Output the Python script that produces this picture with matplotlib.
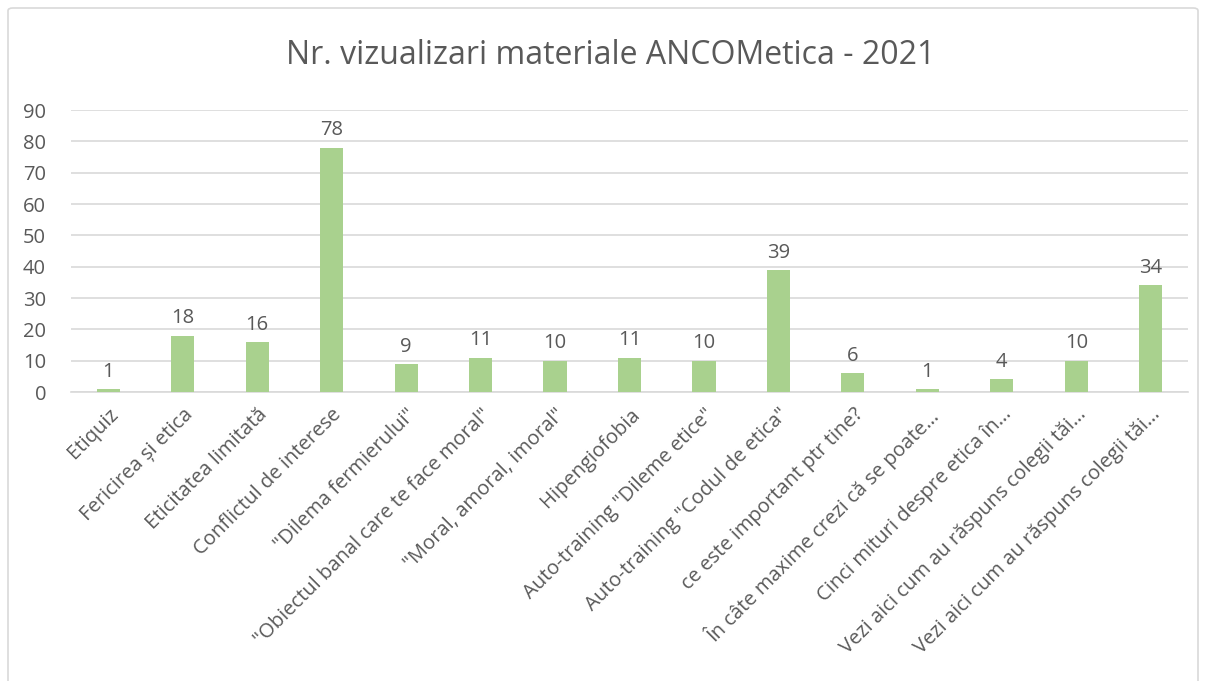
import matplotlib
matplotlib.use("Agg")
import matplotlib.pyplot as plt
from matplotlib.patches import FancyBboxPatch

categories = [
    "Etiquiz",
    "Fericirea și etica",
    "Eticitatea limitată",
    "Conflictul de interese",
    "\"Dilema fermierului\"",
    "\"Obiectul banal care te face moral\"",
    "\"Moral, amoral, imoral\"",
    "Hipengiofobia",
    "Auto-training \"Dileme etice\"",
    "Auto-training \"Codul de etica\"",
    "ce este important ptr tine?",
    "În câte maxime crezi că se poate…",
    "Cinci mituri despre etica în…",
    "Vezi aici cum au răspuns colegii tăi…",
    "Vezi aici cum au răspuns colegii tăi…",
]
values = [1, 18, 16, 78, 9, 11, 10, 11, 10, 39, 6, 1, 4, 10, 34]
title = "Nr. vizualizari materiale ANCOMetica - 2021"
yticks = list(range(0, 100, 10))

plt.rcParams['font.family'] = ['Open Sans', 'DejaVu Sans']
text_color = "#595959"
grid_color = "#D9D9D9"
bar_color = "#A9D18E"

fig = plt.figure(figsize=(12.06, 6.81), dpi=100)
ax = fig.add_axes([71/1206, 1-392/681, (1188-71)/1206, (392-110)/681])

x = list(range(len(categories)))
ax.bar(x, values, width=0.31, color=bar_color, zorder=3)
for xi, v in zip(x, values):
    ax.text(xi, v + 2.3, str(v), ha="center", va="bottom", fontsize=14.5, color=text_color)

ax.set_xlim(-0.5, len(categories) - 0.5)
ax.set_ylim(0, 90)
ax.set_yticks(yticks)
ax.set_yticklabels([str(t) for t in yticks], fontsize=14.5, color=text_color)
ax.grid(axis="y", color=grid_color, linewidth=1.2, zorder=0)
ax.set_xticks(x)
ax.set_xticklabels(categories, rotation=45, ha="right", rotation_mode="anchor",
                   fontsize=14.5, color=text_color)
ax.tick_params(axis="both", length=0)
ax.tick_params(axis="x", pad=9)
ax.tick_params(axis="y", pad=18)
for s in ["top", "right", "left"]:
    ax.spines[s].set_visible(False)
ax.spines["bottom"].set_color(grid_color)
ax.spines["bottom"].set_linewidth(1.2)

fig.text(611/1206, 1-55/681, title, ha="center", va="center", fontsize=23, color=text_color)

border = FancyBboxPatch((8/1206, -0.02), (1198-8)/1206, 1-8/681 + 0.02,
                        boxstyle="round,pad=0,rounding_size=0.004",
                        transform=fig.transFigure, fill=False,
                        edgecolor=grid_color, linewidth=1.2)
fig.patches.append(border)

fig.savefig("out.png", dpi=100)
